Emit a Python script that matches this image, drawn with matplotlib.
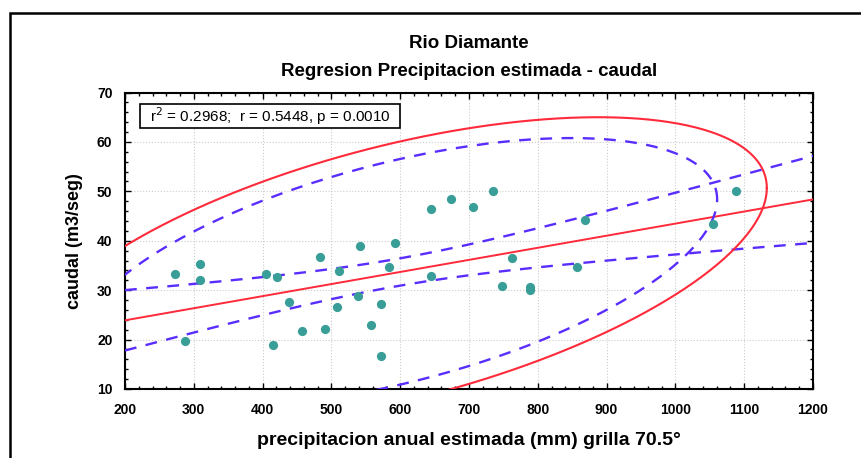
import numpy as np
import matplotlib
matplotlib.use('Agg')
import matplotlib.pyplot as plt
from matplotlib.ticker import MultipleLocator

# precipitacion anual estimada (mm) vs caudal (m3/seg)
precip = [272.7, 287.6, 309.0, 309.0, 405.4, 420.5, 438.8, 414.7, 456.8, 483.4,
          490.7, 511.0, 508.1, 541.6, 538.2, 557.1, 572.1, 572.1, 584.2, 592.9,
          644.3, 644.8, 674.3, 705.4, 735.3, 762.1, 747.5, 788.7, 788.7, 856.5,
          868.6, 1055.1, 1088.1]
caudal = [33.2, 19.8, 35.2, 32.0, 33.3, 32.7, 27.6, 19.0, 21.7, 36.7,
          22.1, 33.9, 26.5, 39.0, 28.8, 22.9, 27.2, 16.6, 34.7, 39.5,
          46.5, 32.8, 48.4, 46.9, 50.1, 36.6, 30.8, 30.0, 30.6, 34.7,
          44.1, 43.4, 50.0]

stats_text = r'r$^2$ = 0.2968;  r = 0.5448, p = 0.0010'
t_crit = 2.040      # t(0.975, n-2), band 0.95
c_red = 7.03        # prediction ellipse 0.95 (F based, n=33)
c_blue = 5.27       # prediction ellipse 0.90
ell_stretch = 1.3   # vertical stretch seen in the original ellipses

red = '#ff2a3a'
blue = '#5a2dff'
teal = '#3a9e98'

plt.rcParams['font.family'] = ['Liberation Sans', 'DejaVu Sans']

x = np.array(precip)
y = np.array(caudal)
n = len(x)
slope, icpt = np.polyfit(x, y, 1)
resid = y - (slope * x + icpt)
s = np.sqrt(np.sum(resid ** 2) / (n - 2))
sxx = np.sum((x - x.mean()) ** 2)

fig = plt.figure(figsize=(8.62, 4.58), dpi=100)
ax = fig.add_axes([125 / 862, 1 - 389 / 458, (813 - 125) / 862, (389 - 92.5) / 458])

xs = np.linspace(200, 1200, 300)
ys = slope * xs + icpt
band = t_crit * s * np.sqrt(1 / n + (xs - x.mean()) ** 2 / sxx)
dash = (0, (5, 4))
ax.plot(xs, ys, color=red, lw=1.4, zorder=3)
ax.plot(xs, ys + band, color=blue, lw=1.7, ls=dash, zorder=3)
ax.plot(xs, ys - band, color=blue, lw=1.7, ls=dash, zorder=3)

# ellipses
sx = x.std(ddof=1)
sy = y.std(ddof=1) * ell_stretch
r = np.corrcoef(x, y)[0, 1]
t = np.linspace(0, 2 * np.pi, 500)
for c, col, style, lw in [(c_red, red, '-', 1.5), (c_blue, blue, dash, 1.7)]:
    k = np.sqrt(c)
    ex = x.mean() + k * sx * np.cos(t)
    ey = y.mean() + k * sy * (r * np.cos(t) + np.sqrt(1 - r ** 2) * np.sin(t))
    ax.plot(ex, ey, color=col, lw=lw, ls=style, zorder=3)

ax.scatter(x, y, s=44, color=teal, zorder=4, linewidths=0)

ax.set_xlim(200, 1200)
ax.set_ylim(10, 70)
ax.xaxis.set_major_locator(MultipleLocator(100))
ax.xaxis.set_minor_locator(MultipleLocator(20))
ax.yaxis.set_major_locator(MultipleLocator(10))
ax.yaxis.set_minor_locator(MultipleLocator(2))
ax.tick_params(which='both', direction='in', top=True, right=True)
ax.tick_params(which='major', length=4, width=1)
ax.tick_params(which='minor', length=2.5, width=1)
ax.tick_params(labelsize=10)
ax.tick_params(axis='x', pad=10)
ax.tick_params(axis='y', pad=9)
for lab in ax.get_xticklabels() + ax.get_yticklabels():
    lab.set_fontweight('bold')
ax.grid(True, which='major', ls=':', color='#cccccc', lw=0.8)
for sp in ax.spines.values():
    sp.set_linewidth(1.5)

ax.set_xlabel('precipitacion anual estimada (mm) grilla 70.5°', fontsize=14,
              fontweight='bold', labelpad=11)
ax.set_ylabel('caudal (m3/seg)', fontsize=13, fontweight='bold', labelpad=10)

# stats box
ax.add_patch(plt.Rectangle((0.0218, 0.880), 0.378, 0.081, transform=ax.transAxes,
                           fc='white', ec='black', lw=1.2, zorder=6))
ax.text(0.0363, 0.921, stats_text, transform=ax.transAxes, fontsize=11, va='center',
        zorder=7)

fig.text(469 / 862, 1 - 44 / 458, 'Rio Diamante', ha='center', va='center',
         fontsize=13.5, fontweight='bold')
fig.text(469 / 862, 1 - 71 / 458, 'Regresion Precipitacion estimada - caudal',
         ha='center', va='center', fontsize=13.5, fontweight='bold')

# outer frame
fig.add_artist(plt.Rectangle((10 / 862, -0.1), 1.2, 1.1 - 13 / 458, transform=fig.transFigure,
                             fill=False, ec='black', lw=1.8))

fig.savefig('out.png', dpi=100)
